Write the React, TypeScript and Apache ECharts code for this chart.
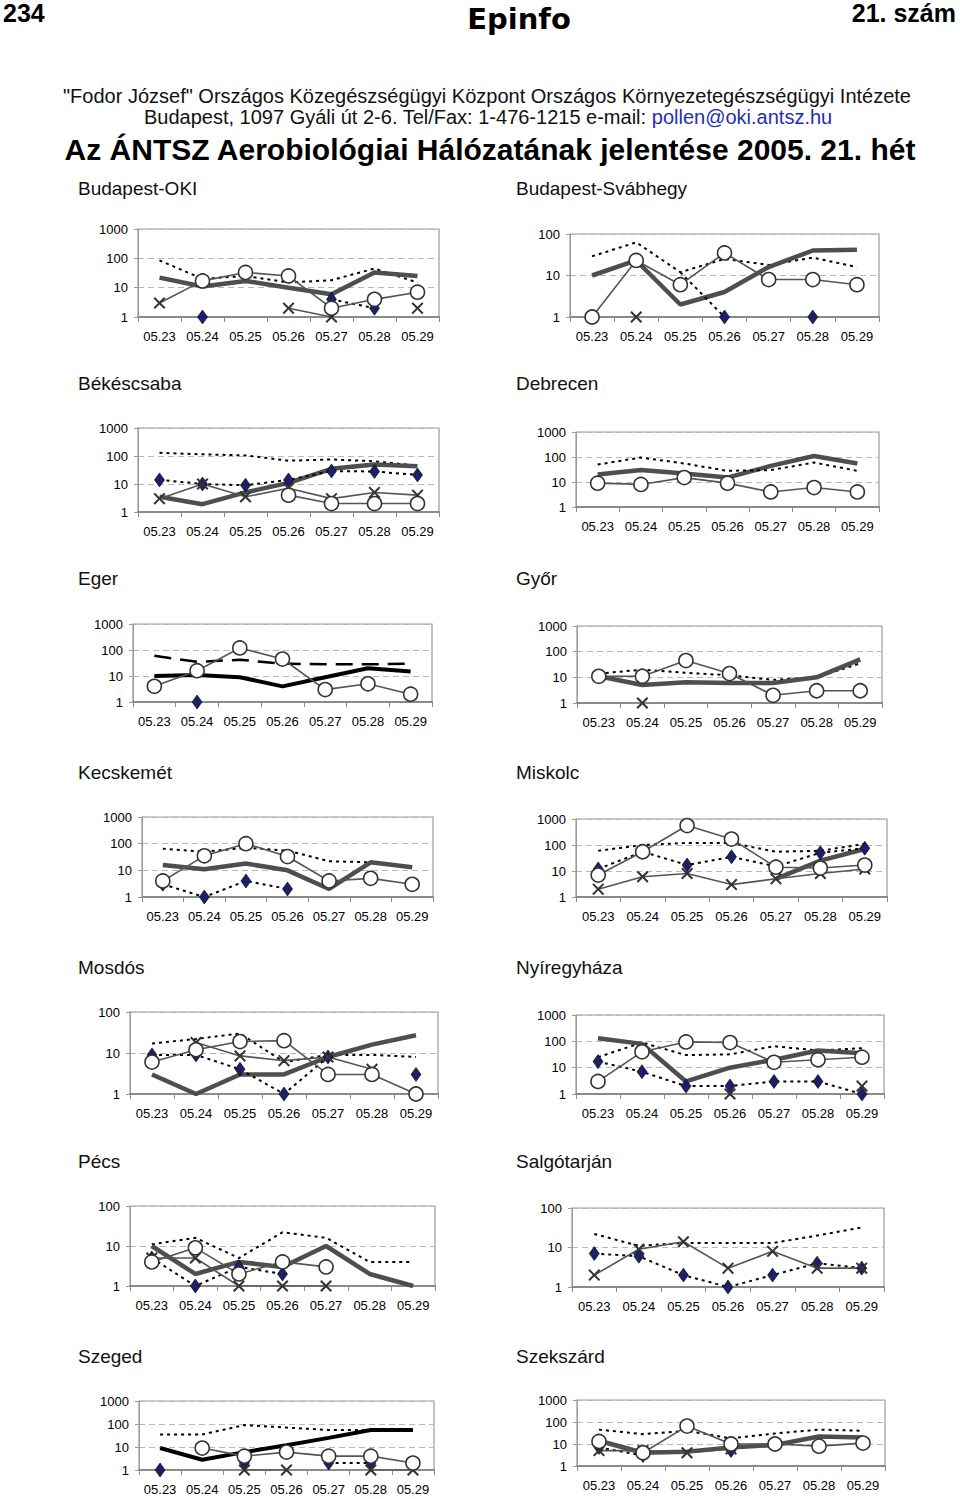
import React, { useEffect, useRef } from "react";
import * as echarts from "echarts";

const N = null;
const days = ["05.23", "05.24", "05.25", "05.26", "05.27", "05.28", "05.29"];

// Budapest-OKI
const okiThick = [22, 11, 17, 10, 6, 33, 25];
const okiDotted = [85, 20, 25, 15, 18, 45, 15];
const okiDiamond = [N, 1, N, N, 4, 2, N];
const okiCross = [3, 17, N, 2, 1, N, 2];
const okiCircle = [N, 17, 33, 25, 2, 4, 7];
// Budapest-Svábhegy
const svaThick = [10, 23, 2, 4, 16, 40, 42];
const svaDotted = [29, 63, 12, 25, 18, 27, 16];
const svaDiamond = [N, N, 12, 1, N, 1, N];
const svaCross = [N, 1, N, N, N, N, N];
const svaCircle = [1, 23, 6, 35, 8, 8, 6];
// Békéscsaba
const bekThick = [3.5, 1.9, 5, 11, 35, 50, 43];
const bekDotted = [130, 115, 105, 68, 75, 65, 45];
const bekDiamond = [14, 10, 9, 14, 29, 28, 21];
const bekCross = [3, 10, 3.5, 7, 3, 5, 4];
const bekCircle = [N, N, N, 4, 2, 2, 2];
// Debrecen
const debThick = [20, 30, 22, 15, 44, 110, 55];
const debDotted = [50, 95, 55, 28, 30, 60, 28];
const debCircle = [9, 8, 15, 9, 4, 6, 4];
// Eger
const egeThick = [10, 11, 9, 4, 9, 20, 15];
const egeDashed = [60, 35, 42, 30, 28, 28, 30];
const egeDiamond = [N, 1, N, N, N, N, N];
const egeCircle = [4, 16, 120, 45, 3, 5, 2];
// Győr
const gyoThick = [11, 5, 6.5, 6, 6, 10, 50];
const gyoDotted = [14, 20, 15, 12, 8, 10, 35];
const gyoCross = [N, 1, N, N, N, N, N];
const gyoCircle = [11, 11, 45, 14, 2, 3, 3];
// Kecskemét
const kecThick = [16, 11, 18, 10, 2, 20, 13];
const kecDotted = [65, 50, 70, 55, 22, 20, N];
const kecDiamond = [3, 1, 4, 2, N, N, N];
const kecCircle = [4, 35, 100, 33, 4, 5, 3];
// Miskolc
const misThick = [N, N, N, N, 5, 25, 70];
const misDotted = [60, 100, 120, 120, 55, 60, 110];
const misDiamond = [12, 55, 17, 35, 15, 50, 75];
const misCross = [2, 6, 8, 3, 5, 8, 12];
const misCircle = [7, 55, 560, 170, 14, 13, 17];
// Mosdós
const mosThick = [3, 1, 3, 3, 8, 16, 27];
const mosDotted = [17, 22, 30, 6, 9, 9, 8];
const mosDiamond = [9, 9, 4, 1, 8, N, 3];
const mosCross = [N, 18, 8.5, 6.5, 8, 4, N];
const mosCircle = [6, 12, 19, 20, 3, 3, 1];
// Nyíregyháza
const nyiThick = [130, 80, 3, 10, 20, 45, 35];
const nyiDotted = [25, 90, 30, 32, 65, 45, 55];
const nyiDiamond = [17, 7, 2, 2, 3, 3, 1];
const nyiCross = [N, N, N, 1, N, N, 2];
const nyiCircle = [3, 40, 95, 90, 16, 20, 25];
// Pécs
const pecThick = [10, 2, 4, 3, 10, 2, 1];
const pecDotted = [11, 16, 5, 22, 16, 4, 4];
const pecDiamond = [5, 1, 3, 2, N, N, N];
const pecCross = [5, 5, 1, 1, 1, N, N];
const pecCircle = [4, 9, 2, 4, 3, N, N];
// Salgótarján
const salDotted = [22, 11, 13, 13, 13, 20, 32];
const salDiamond = [7, 6, 2, 1, 2, 4, 3];
const salCross = [2, 9, 14, 3, 8, 3, 3];
// Szeged
const szgThick = [9, 2.8, 6, 12, 25, 55, 55];
const szgDotted = [35, 35, 90, 70, 55, 55, 55];
const szgDiamond = [1, N, 2, N, 2, 2, N];
const szgCross = [N, N, 1, 1, N, 1, 1];
const szgCircle = [N, 9, 4, 6, 4, 4, 2];
// Szekszárd
const szkThick = [14, 4, 4.5, 7, 9, 22, 20];
const szkDotted = [45, 28, 40, 18, 30, 45, 40];
const szkDiamond = [7, 3, N, 5, N, N, N];
const szkCross = [5, 5, 4, 6, 10, N, N];
const szkCircle = [13, 4, 65, 10, 10, 8, 11];

// points whose marker is hidden in the original (line passes through only)
const hiddenMarks: Record<string, number[]> = { "Budapest-Svábhegy:diamond": [2] };

type S = [string, (number | null)[]];
const panels: { title: string; tx: number; ty: number; left: number; right: number; top: number; bottom: number; max: number; s: S[] }[] = [
  { title: "Budapest-OKI", tx: 78, ty: 188, left: 138, right: 439, top: 229, bottom: 317, max: 1000,
    s: [["dotted", okiDotted], ["thick", okiThick], ["diamond", okiDiamond], ["cross", okiCross], ["circle", okiCircle]] },
  { title: "Budapest-Svábhegy", tx: 516, ty: 188, left: 570, right: 879, top: 234, bottom: 317, max: 100,
    s: [["dotted", svaDotted], ["thick", svaThick], ["diamond", svaDiamond], ["cross", svaCross], ["circle", svaCircle]] },
  { title: "Békéscsaba", tx: 78, ty: 383, left: 138, right: 439, top: 428, bottom: 512, max: 1000,
    s: [["dotted", bekDotted], ["thick", bekThick], ["diamond", bekDiamond], ["cross", bekCross], ["circle", bekCircle]] },
  { title: "Debrecen", tx: 516, ty: 383, left: 576, right: 879, top: 432, bottom: 507, max: 1000,
    s: [["thick", debThick], ["dotted", debDotted], ["circle", debCircle]] },
  { title: "Eger", tx: 78, ty: 578, left: 133, right: 432, top: 624, bottom: 702, max: 1000,
    s: [["thickBlack", egeThick], ["dashed", egeDashed], ["diamond", egeDiamond], ["circle", egeCircle]] },
  { title: "Győr", tx: 516, ty: 578, left: 577, right: 882, top: 626, bottom: 703, max: 1000,
    s: [["dotted", gyoDotted], ["thick", gyoThick], ["cross", gyoCross], ["circle", gyoCircle]] },
  { title: "Kecskemét", tx: 78, ty: 772, left: 142, right: 433, top: 817, bottom: 897, max: 1000,
    s: [["dotted", kecDotted], ["thick", kecThick], ["diamond", kecDiamond], ["circle", kecCircle]] },
  { title: "Miskolc", tx: 516, ty: 772, left: 576, right: 887, top: 819, bottom: 897, max: 1000,
    s: [["dotted", misDotted], ["thick", misThick], ["diamond", misDiamond], ["cross", misCross], ["circle", misCircle]] },
  { title: "Mosdós", tx: 78, ty: 967, left: 130, right: 438, top: 1012, bottom: 1094, max: 100,
    s: [["dotted", mosDotted], ["thick", mosThick], ["diamond", mosDiamond], ["cross", mosCross], ["circle", mosCircle]] },
  { title: "Nyíregyháza", tx: 516, ty: 967, left: 576, right: 884, top: 1015, bottom: 1094, max: 1000,
    s: [["dotted", nyiDotted], ["thick", nyiThick], ["diamond", nyiDiamond], ["cross", nyiCross], ["circle", nyiCircle]] },
  { title: "Pécs", tx: 78, ty: 1161, left: 130, right: 435, top: 1206, bottom: 1286, max: 100,
    s: [["dotted", pecDotted], ["thick", pecThick], ["diamond", pecDiamond], ["cross", pecCross], ["circle", pecCircle]] },
  { title: "Salgótarján", tx: 516, ty: 1161, left: 572, right: 884, top: 1208, bottom: 1287, max: 100,
    s: [["dotted", salDotted], ["diamond", salDiamond], ["cross", salCross]] },
  { title: "Szeged", tx: 78, ty: 1356, left: 139, right: 434, top: 1401, bottom: 1470, max: 1000,
    s: [["dotted", szgDotted], ["thickBlack", szgThick], ["diamond", szgDiamond], ["cross", szgCross], ["circle", szgCircle]] },
  { title: "Szekszárd", tx: 516, ty: 1356, left: 577, right: 885, top: 1400, bottom: 1466, max: 1000,
    s: [["dotted", szkDotted], ["diamond", szkDiamond], ["cross", szkCross], ["thick", szkThick], ["circle", szkCircle]] },
];

const FONT = "Liberation Sans, Arial, sans-serif";
const CROSS = "path://M0,1.2L1.2,0L5,3.8L8.8,0L10,1.2L6.2,5L10,8.8L8.8,10L5,6.2L1.2,10L0,8.8L3.8,5Z";

function makeSeries(kind: string, raw: (number | null)[], gi: number, hidden: number[]) {
  const data = raw.map((v, i) => (v != null && hidden.includes(i) ? { value: v, symbol: "none" } : v));
  const base: any = { type: "line", xAxisIndex: gi, yAxisIndex: gi, data, connectNulls: false, silent: true, showAllSymbol: true };
  switch (kind) {
    case "thick":
      return { ...base, symbol: "none", lineStyle: { color: "#4e4e4e", width: 4.5 } };
    case "thickBlack":
      return { ...base, symbol: "none", lineStyle: { color: "#000", width: 4 } };
    case "dotted":
      return { ...base, symbol: "none", lineStyle: { color: "#000", width: 2, type: [3, 4] } };
    case "dashed":
      return { ...base, symbol: "none", lineStyle: { color: "#000", width: 2.5, type: [17, 9] } };
    case "diamond":
      return { ...base, symbol: "diamond", symbolSize: [10, 14], itemStyle: { color: "#1c1f6a", borderColor: "#000", borderWidth: 0.6 }, lineStyle: { color: "#000", width: 2, type: [3, 4] } };
    case "cross":
      return { ...base, symbol: CROSS, symbolSize: 12, itemStyle: { color: "#333" }, lineStyle: { color: "#555", width: 1.6 } };
    default:
      return { ...base, symbol: "circle", symbolSize: 14, itemStyle: { color: "#fff", borderColor: "#333", borderWidth: 1.6 }, lineStyle: { color: "#555", width: 1.6 } };
  }
}

export default function App() {
  const ref = useRef<HTMLDivElement>(null);
  useEffect(() => {
    if (!ref.current) return;
    const chart = echarts.init(ref.current, undefined, { renderer: "svg" });
    const grid: any[] = [];
    const xAxis: any[] = [];
    const yAxis: any[] = [];
    const series: any[] = [];
    const graphic: any[] = [];
    panels.forEach((p, i) => {
      grid.push({ left: p.left, width: p.right - p.left, top: p.top, height: p.bottom - p.top, show: true, borderColor: "#9a9a9a", borderWidth: 1.2, backgroundColor: "transparent" });
      xAxis.push({
        type: "category", gridIndex: i, data: days, boundaryGap: true,
        axisLine: { lineStyle: { color: "#8a8a8a", width: 2 } },
        axisTick: { show: true, length: 5, lineStyle: { color: "#8a8a8a" } },
        axisLabel: { color: "#000", fontSize: 13, fontFamily: FONT, margin: 13, interval: 0 },
        splitLine: { show: false },
      });
      yAxis.push({
        type: "log", logBase: 10, gridIndex: i, min: 1, max: p.max,
        axisLine: { show: true, lineStyle: { color: "#9a9a9a", width: 1 } },
        axisTick: { show: true, length: 4, lineStyle: { color: "#9a9a9a" } },
        axisLabel: { color: "#000", fontSize: 13, fontFamily: FONT, margin: 10, formatter: (v: number) => String(Math.round(v)) },
        splitLine: { show: true, lineStyle: { color: "#b8b8b8", type: [6, 4], width: 1 } },
      });
      p.s.forEach(([k, d]) => series.push(makeSeries(k, d, i, hiddenMarks[p.title + ":" + k] || [])));
      graphic.push({ type: "text", left: p.tx, top: p.ty - 9, style: { text: p.title, fontSize: 19, fontFamily: FONT, fill: "#111" } });
    });
    graphic.push(
      { type: "text", left: 3, top: 0, style: { text: "234", fontSize: 25, fontWeight: "bold", fontFamily: "Liberation Sans Narrow, Liberation Sans, Arial", fill: "#000" } },
      { type: "text", right: 4, top: 0, style: { text: "21. szám", fontSize: 25, fontWeight: "bold", fontFamily: "Liberation Sans Narrow, Liberation Sans, Arial", fill: "#000" } },
      { type: "text", x: 519, y: 19, style: { text: "Epinfo", fontSize: 29, fontWeight: 900, fontFamily: "DejaVu Sans", fill: "#000", align: "center", verticalAlign: "middle" } },
      { type: "text", x: 487, y: 96, style: { text: "\"Fodor József\" Országos Közegészségügyi Központ Országos Környezetegészségügyi Intézete", fontSize: 20, fontFamily: FONT, fill: "#111", align: "center", verticalAlign: "middle" } },
      { type: "text", x: 488, y: 117, style: { text: "{a|Budapest, 1097 Gyáli út 2-6. Tel/Fax: 1-476-1215 e-mail: }{b|pollen@oki.antsz.hu}", align: "center", verticalAlign: "middle", rich: { a: { fontSize: 20, fontFamily: FONT, fill: "#111" }, b: { fontSize: 20, fontFamily: FONT, fill: "#1f2fb0" } } } },
      { type: "text", x: 490, y: 149, style: { text: "Az ÁNTSZ Aerobiológiai Hálózatának jelentése 2005. 21. hét", fontSize: 30, fontWeight: "bold", fontFamily: FONT, fill: "#000", align: "center", verticalAlign: "middle" } },
    );
    chart.setOption({ animation: false, backgroundColor: "#fff", grid, xAxis, yAxis, series, graphic });
    return () => chart.dispose();
  }, []);
  return <div ref={ref} style={{ position: "absolute", left: 0, top: 0, width: 960, height: 1499 }} />;
}
